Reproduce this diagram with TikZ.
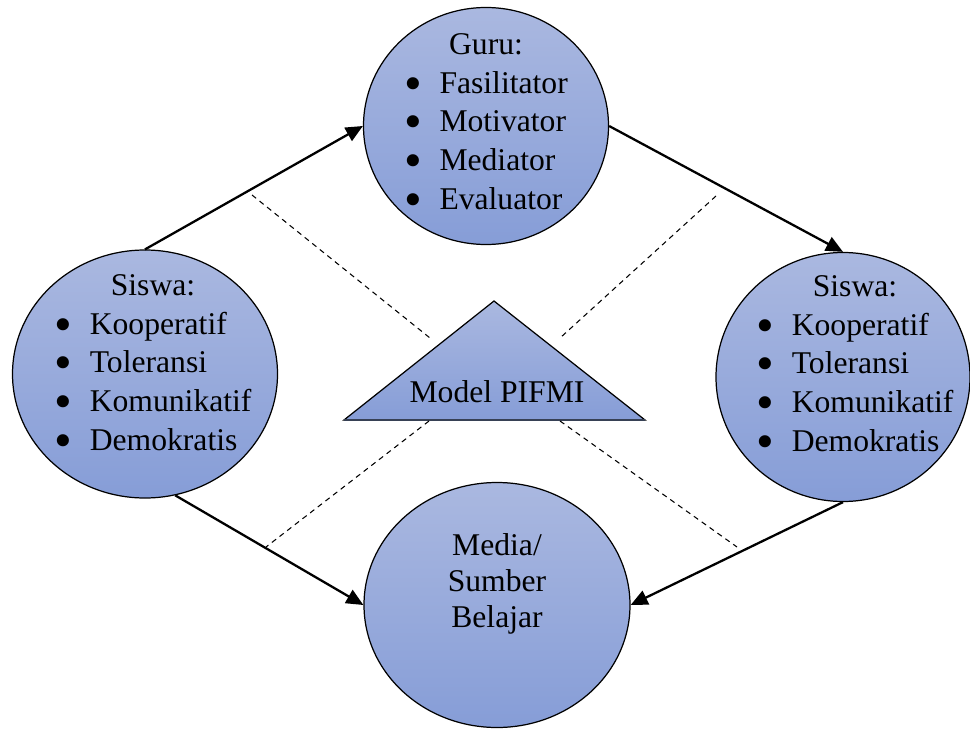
\documentclass[tikz,border=0pt]{standalone}
\usepackage{fontspec}
\setmainfont{Liberation Serif}
\usetikzlibrary{arrows.meta,shapes.geometric,calc}
\definecolor{skytop}{RGB}{170,184,224}
\definecolor{skybot}{RGB}{134,157,215}
\definecolor{slate}{RGB}{55,65,85}
\newcommand{\dotitem}{\smash{\raisebox{-0.22em}{\scalebox{1.6}{\textbullet}}}}
\tikzset{
  >={Triangle[length=3.4mm,width=3mm]},
  bubble/.style={ellipse,draw=black,line width=0.7pt,top color=skytop,
    bottom color=skybot,inner sep=0pt},
  words/.style={font=\fontsize{18}{22}\selectfont,align=center,inner sep=0pt},
  flow/.style={->,line width=1.3pt},
  guide/.style={dash pattern=on 3pt off 2.5pt,line width=0.6pt},
}

\begin{document}
\begin{tikzpicture}
  \useasboundingbox (0,0) rectangle (19.4,-14.58);
  % circles
  \node[bubble,minimum width=4.9cm,minimum height=4.74cm] (guru) at (9.72,-2.52) {};
  \node[bubble,minimum width=5.3cm,minimum height=4.96cm] (siswaL) at (2.9,-7.48) {};
  \node[bubble,minimum width=5.08cm,minimum height=4.98cm] (siswaR) at (16.86,-7.54) {};
  \node[bubble,minimum width=5.32cm,minimum height=4.9cm] (media) at (9.94,-12.1) {};
  % their texts
  \node[words] (guruTxt) at ([yshift=0.04cm]guru) {\begin{tabular}{@{}l@{\hspace{10pt}}l@{}}
      \multicolumn{2}{c}{Guru:}\\
      \dotitem & Fasilitator\\
      \dotitem & Motivator\\
      \dotitem & Mediator\\
      \dotitem & Evaluator
    \end{tabular}};
  \node[words] (siswaLTxt) at ([xshift=0.16cm,yshift=0.18cm]siswaL) {\begin{tabular}{@{}l@{\hspace{10pt}}l@{}}
      \multicolumn{2}{c}{Siswa:}\\
      \dotitem & Kooperatif\\
      \dotitem & Toleransi\\
      \dotitem & Komunikatif\\
      \dotitem & Demokratis
    \end{tabular}};
  \node[words] (siswaRTxt) at ([xshift=0.24cm,yshift=0.22cm]siswaR) {\begin{tabular}{@{}l@{\hspace{10pt}}l@{}}
      \multicolumn{2}{c}{Siswa:}\\
      \dotitem & Kooperatif\\
      \dotitem & Toleransi\\
      \dotitem & Komunikatif\\
      \dotitem & Demokratis
    \end{tabular}};
  \node[words,font=\fontsize{18}{20.5}\selectfont] (mediaTxt) at (9.94,-11.68) {Media/\\Sumber\\Belajar};
  % triangle
  \coordinate (triTop) at (9.88,-6.02);
  \coordinate (triL) at (6.88,-8.4);
  \coordinate (triR) at (12.9,-8.4);
  \path[draw=black,line width=0.7pt,top color=skytop,bottom color=skybot]
    (triTop) -- (triL) -- (triR) -- cycle;
  \draw[slate,line width=1.4pt] (triL) -- (triR);
  \node[words] (model) at (9.94,-7.84) {Model PIFMI};
  % dashed guides
  \coordinate (g1a) at (5.04,-3.9);   \coordinate (g1b) at (8.6,-6.76);
  \coordinate (g2a) at (14.32,-3.92); \coordinate (g2b) at (11.2,-6.76);
  \coordinate (g3a) at (8.58,-8.42);  \coordinate (g3b) at (5.32,-10.94);
  \coordinate (g4a) at (11.2,-8.42);  \coordinate (g4b) at (14.74,-10.94);
  \draw[guide] (g1a) -- (g1b);
  \draw[guide] (g2a) -- (g2b);
  \draw[guide] (g3a) -- (g3b);
  \draw[guide] (g4a) -- (g4b);
  % arrows
  \draw[flow] (siswaL.north) -- (guru.west);
  \draw[flow] (guru.east) -- (siswaR.north);
  \draw[flow] (siswaR.south) -- (media.east);
  \draw[flow] (siswaL.-76) -- (media.west);
\end{tikzpicture}
\end{document}
